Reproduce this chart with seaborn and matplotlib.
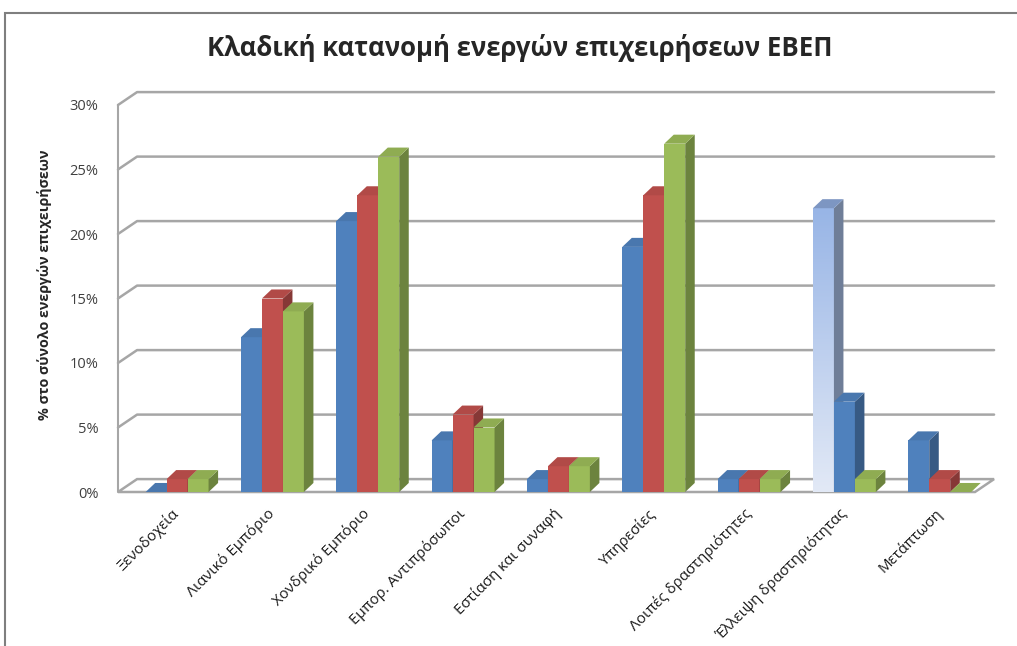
import numpy as np
import pandas as pd
import matplotlib
matplotlib.use("Agg")
import matplotlib.pyplot as plt
import seaborn as sns
from matplotlib.patches import Polygon, Rectangle
from matplotlib.colors import LinearSegmentedColormap, to_rgb

# δεδομένα (ποσοστά %)
kladoi = ["Ξενοδοχεία", "Λιανικό Εμπόριο", "Χονδρικό Εμπόριο", "Εμπορ. Αντιπρόσωποι",
          "Εστίαση και συναφή", "Υπηρεσίες", "Λοιπές δραστηριότητες",
          "Έλλειψη δραστηριότητας", "Μετάπτωση"]
seira_1 = [0, 12, 21, 4, 1, 19, 1, 22, 4]
seira_2 = [1, 15, 23, 6, 2, 23, 1, 7, 1]
seira_3 = [1, 14, 26, 5, 2, 27, 1, 1, 0]
seires = ["Σειρά 1", "Σειρά 2", "Σειρά 3"]
yticks = [0, 5, 10, 15, 20, 25, 30]

xromata = ["#4F81BD", "#C0504D", "#9BBB59"]

df = pd.DataFrame({
    "Κλάδος": kladoi * 3,
    "Σειρά": np.repeat(seires, len(kladoi)),
    "Τιμή": seira_1 + seira_2 + seira_3,
})

sns.set_theme(style="white")
plt.rcParams["font.family"] = ["Open Sans", "DejaVu Sans"]

fig = plt.figure(figsize=(10.17, 6.46), dpi=100)
ax = fig.add_axes([118 / 1017, 154 / 646, (975 - 118) / 1017, (492 - 105) / 646])
sns.barplot(data=df, x="Κλάδος", y="Τιμή", hue="Σειρά", palette=xromata,
            width=0.66, saturation=1, errorbar=None, legend=False,
            edgecolor="none", linewidth=0, ax=ax)

ax.set_xlim(-0.62, 8.37)
ax.set_ylim(0, 30)
x_min, x_max = ax.get_xlim()

# "τρισδιάστατο" βάθος
dx, dy = 0.1, 0.7      # βάθος ράβδων
wx, wy = 0.2, 1.0      # βάθος τοίχου
grid_c = "#A6A6A6"


def skoteino(c, f):
    return tuple(np.clip(np.array(to_rgb(c)) * f, 0, 1))


# τοίχος και δάπεδο
for yt in yticks[1:]:
    ax.plot([x_min, x_min + wx, x_max + wx], [yt, yt + wy, yt + wy],
            color=grid_c, lw=1.8, zorder=0.5, clip_on=False)
ax.plot([x_min, x_min], [0, 30], color=grid_c, lw=1.5, zorder=0.5, clip_on=False)
ax.add_patch(Polygon([(x_min, 0), (x_max, 0), (x_max + wx, wy), (x_min + wx, wy)],
                     closed=True, fc="white", ec=grid_c, lw=1.8, zorder=1, clip_on=False))

# ράβδοι με πλευρές
bars = []
for h, cont in enumerate(ax.containers):
    for i, p in enumerate(cont):
        bars.append((p.get_x(), h, i, p))
bars.sort(key=lambda b: b[0])

for k, (x0, h, i, p) in enumerate(bars):
    z = 3 + k * 0.01
    w = p.get_width()
    hg = p.get_height()
    c = xromata[h]
    if (h, i) == (1, 7):
        c = xromata[0]
        p.set_facecolor(c)
    side_c = skoteino(c, 0.7)
    top_c = skoteino(c, 0.92)
    if (h, i) == (0, 7):
        side_c = "#6F7E98"
        top_c = "#7D96C2"
        p.set_facecolor("none")
        cmap = LinearSegmentedColormap.from_list("gr", ["#E2E9F6", "#98B5E6"])
        im = ax.imshow(np.linspace(0, 1, 100).reshape(-1, 1), cmap=cmap, aspect="auto",
                       origin="lower", extent=(x0, x0 + w, 0, hg), zorder=z)
        im.set_clip_path(p)
    p.set_zorder(z)
    p.set_clip_on(False)
    ax.add_patch(Polygon([(x0 + w, 0), (x0 + w + dx, dy), (x0 + w + dx, hg + dy), (x0 + w, hg)],
                         closed=True, fc=side_c, ec="none", zorder=z, clip_on=False))
    ax.add_patch(Polygon([(x0, hg), (x0 + dx, hg + dy), (x0 + w + dx, hg + dy), (x0 + w, hg)],
                         closed=True, fc=top_c, ec="none", zorder=z, clip_on=False))

ax.set_xlim(x_min, x_max)
ax.set_ylim(0, 30)

for s in ax.spines.values():
    s.set_visible(False)
ax.set_xlabel("")
ax.set_ylabel("")
ax.set_yticks(yticks)
ax.set_yticklabels([f"{v}%" for v in yticks], fontsize=10.5, color="#404040")
ax.set_xticks(range(len(kladoi)))
ax.set_xticklabels(kladoi, rotation=45, ha="right", va="center",
                   rotation_mode="anchor", fontsize=10.8, color="#1A1A1A")
ax.tick_params(axis="y", length=0, pad=14)
ax.tick_params(axis="x", length=0, pad=14)

fig.text(45 / 1017, 1 - 285 / 646, "% στο σύνολο ενεργών επιχειρήσεων",
         rotation=90, ha="center", va="center", fontsize=10.3, fontweight="bold")
fig.text(520 / 1017, 1 - 48 / 646, "Κλαδική κατανομή ενεργών επιχειρήσεων ΕΒΕΠ",
         ha="center", va="center", fontsize=18.5, fontweight="bold")

fig.add_artist(Rectangle((5 / 1017, -0.05), 1.1, (646 - 13) / 646 + 0.05,
                         transform=fig.transFigure, fill=False, ec="#7F7F7F", lw=1.5))

fig.savefig("out.png", dpi=100)
